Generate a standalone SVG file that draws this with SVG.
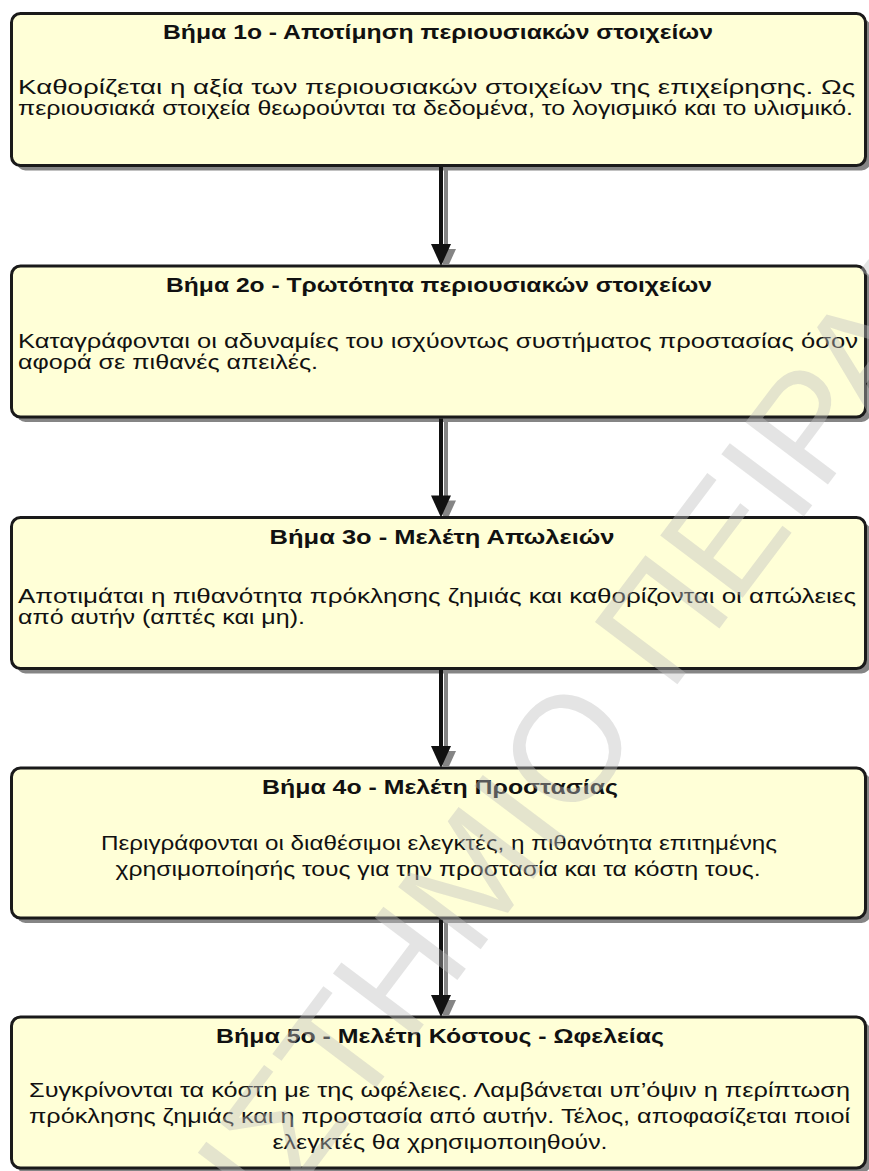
<svg xmlns="http://www.w3.org/2000/svg" width="869" height="1171" viewBox="0 0 869 1171">
  <style>
    .shadow { fill: #858585; }
    .box { fill: #ffffd7; stroke: #1a1a1a; stroke-width: 3; }
    .title { font-family: "Liberation Sans", Arial, sans-serif; font-weight: bold; font-size: 21px; fill: #111; text-anchor: middle; }
    .body { font-family: "Liberation Sans", Arial, sans-serif; font-size: 20px; fill: #111; }
    .mid { text-anchor: middle; }
    .line { stroke: #111; stroke-width: 4; fill: none; }
    .line-sh { stroke: #858585; stroke-width: 4; fill: none; }
    .head { fill: #111; }
    .head-sh { fill: #858585; }
    .wm { font-family: "Liberation Sans", Arial, sans-serif; font-size: 150px; fill: #bebebe; fill-opacity: 0.42; }
  </style>
  <rect width="869" height="1171" fill="#ffffff"/>

  <g id="step1">
    <rect class="shadow" x="16.5" y="18.5" width="854" height="152" rx="9"/>
    <rect class="box" x="11.5" y="13.5" width="854" height="152" rx="9"/>
    <text class="title" x="438" y="39" textLength="550" lengthAdjust="spacingAndGlyphs">Βήμα 1ο - Αποτίμηση περιουσιακών στοιχείων</text>
    <text class="body" x="18" y="94" textLength="837" lengthAdjust="spacingAndGlyphs">Καθορίζεται η αξία των περιουσιακών στοιχείων της επιχείρησης. Ως</text>
    <text class="body" x="18" y="115" textLength="835" lengthAdjust="spacingAndGlyphs">περιουσιακά στοιχεία θεωρούνται τα δεδομένα, το λογισμικό και το υλισμικό.</text>
  </g>

  <g id="step2">
    <rect class="shadow" x="16.5" y="271" width="854" height="151" rx="9"/>
    <rect class="box" x="11.5" y="266" width="854" height="151" rx="9"/>
    <text class="title" x="439" y="292" textLength="546" lengthAdjust="spacingAndGlyphs">Βήμα 2ο - Τρωτότητα περιουσιακών στοιχείων</text>
    <text class="body" x="18" y="348" textLength="840" lengthAdjust="spacingAndGlyphs">Καταγράφονται οι αδυναμίες του ισχύοντως συστήματος προστασίας όσον</text>
    <text class="body" x="18" y="369" textLength="300" lengthAdjust="spacingAndGlyphs">αφορά σε πιθανές απειλές.</text>
  </g>

  <g id="step3">
    <rect class="shadow" x="16.5" y="522.5" width="854" height="151" rx="9"/>
    <rect class="box" x="11.5" y="517.5" width="854" height="151" rx="9"/>
    <text class="title" x="442" y="544" textLength="345" lengthAdjust="spacingAndGlyphs">Βήμα 3ο - Μελέτη Απωλειών</text>
    <text class="body" x="18" y="603" textLength="838" lengthAdjust="spacingAndGlyphs">Αποτιμάται η πιθανότητα πρόκλησης ζημιάς και καθορίζονται οι απώλειες</text>
    <text class="body" x="18" y="624" textLength="287" lengthAdjust="spacingAndGlyphs">από αυτήν (απτές και μη).</text>
  </g>

  <g id="step4">
    <rect class="shadow" x="16.5" y="773" width="854" height="150" rx="9"/>
    <rect class="box" x="11.5" y="768" width="854" height="150" rx="9"/>
    <text class="title" x="440" y="794" textLength="356" lengthAdjust="spacingAndGlyphs">Βήμα 4ο - Μελέτη Προστασίας</text>
    <text class="body mid" x="439" y="850" textLength="676" lengthAdjust="spacingAndGlyphs">Περιγράφονται οι διαθέσιμοι ελεγκτές, η πιθανότητα επιτημένης</text>
    <text class="body mid" x="438" y="876" textLength="645" lengthAdjust="spacingAndGlyphs">χρησιμοποίησής τους για την προστασία και τα κόστη τους.</text>
  </g>

  <g id="step5">
    <rect class="shadow" x="16.5" y="1022" width="854" height="151" rx="9"/>
    <rect class="box" x="11.5" y="1017" width="854" height="151" rx="9"/>
    <text class="title" x="440" y="1043" textLength="448" lengthAdjust="spacingAndGlyphs">Βήμα 5ο - Μελέτη Κόστους - Ωφελείας</text>
    <text class="body" x="29" y="1097" textLength="821" lengthAdjust="spacingAndGlyphs">Συγκρίνονται τα κόστη με της ωφέλειες. Λαμβάνεται υπ’όψιν η περίπτωση</text>
    <text class="body" x="29" y="1123" textLength="821" lengthAdjust="spacingAndGlyphs">πρόκλησης ζημιάς και η προστασία από αυτήν. Τέλος, αποφασίζεται ποιοί</text>
    <text class="body mid" x="440" y="1149" textLength="335" lengthAdjust="spacingAndGlyphs">ελεγκτές θα χρησιμοποιηθούν.</text>
  </g>

  <!-- downward arrows between consecutive steps, each with a grey offset shadow -->
  <g id="connectors">
    <g id="arrow-1-2">
      <line class="line-sh" x1="446" y1="170" x2="446" y2="250"/>
      <polygon class="head-sh" points="436,249 456,249 448.9,264.5 443.1,264.5"/>
      <line class="line" x1="441" y1="167" x2="441" y2="246"/>
      <polygon class="head" points="431,244 451,244 441,266"/>
    </g>
    <g id="arrow-2-3">
      <line class="line-sh" x1="446" y1="421.5" x2="446" y2="501.5"/>
      <polygon class="head-sh" points="436,500.5 456,500.5 448.9,516 443.1,516"/>
      <line class="line" x1="441" y1="418.5" x2="441" y2="497.5"/>
      <polygon class="head" points="431,495.5 451,495.5 441,517.5"/>
    </g>
    <g id="arrow-3-4">
      <line class="line-sh" x1="446" y1="673" x2="446" y2="752"/>
      <polygon class="head-sh" points="436,751 456,751 448.9,766.5 443.1,766.5"/>
      <line class="line" x1="441" y1="670" x2="441" y2="748"/>
      <polygon class="head" points="431,746 451,746 441,768"/>
    </g>
    <g id="arrow-4-5">
      <line class="line-sh" x1="446" y1="922.5" x2="446" y2="1001"/>
      <polygon class="head-sh" points="436,1000 456,1000 448.9,1015.5 443.1,1015.5"/>
      <line class="line" x1="441" y1="919.5" x2="441" y2="997"/>
      <polygon class="head" points="431,995 451,995 441,1017"/>
    </g>
  </g>

  <!-- faint diagonal watermark lettering -->
  <g id="watermark">
    <text class="wm" text-anchor="end" transform="translate(643.7 732.7) rotate(-53)">ΠΑΝΕΠΙΣΤΗΜΙΟ</text>
    <text class="wm" transform="translate(670 694) rotate(-53)">ΠΕΙΡΑΙΩΣ</text>
  </g>
</svg>
